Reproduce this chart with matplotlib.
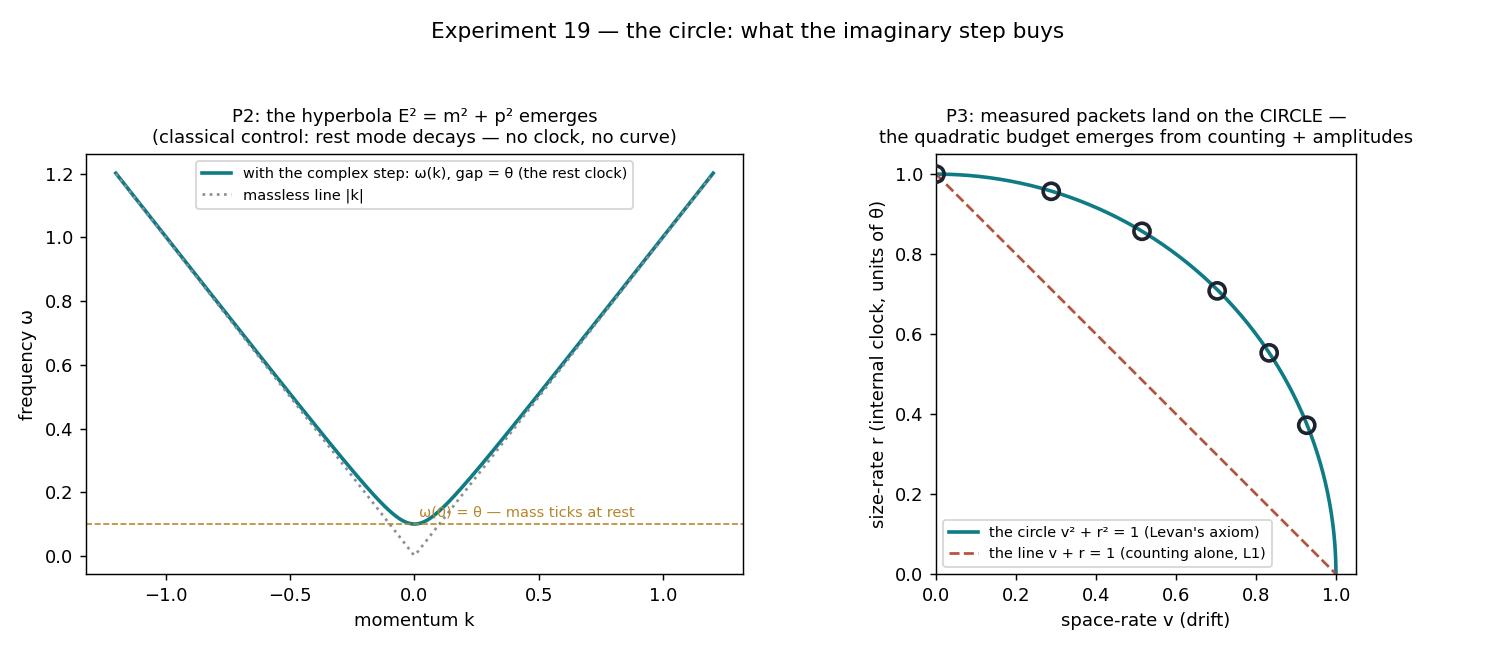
import numpy as np
import matplotlib
matplotlib.use("Agg")
import matplotlib.pyplot as plt

# ---- data ----
theta = 0.1                      # rest gap (the rest clock)
k_range = (-1.2, 1.2)
n_k = 400
# measured packets on the circle
packet_v = [0.0, 0.288, 0.515, 0.703, 0.833, 0.927]
packet_r = [1.0, 0.957, 0.857, 0.708, 0.553, 0.372]

TEAL = "#0f7c85"
GRAY = "#8a8f9b"
GOLD = "#b5862a"
RUST = "#b5523b"
DARK = "#1e2330"

fig = plt.figure(figsize=(11.5, 5), dpi=130)
fig.suptitle("Experiment 19 \u2014 the circle: what the imaginary step buys",
             fontsize=12, y=0.966)

# ---- left: dispersion ----
ax1 = fig.add_axes([0.0575, 0.1169, 0.4395, 0.646])
k = np.linspace(k_range[0], k_range[1], n_k)
omega = np.arccos(np.cos(theta) * np.cos(k))
ax1.plot(k, omega, color=TEAL, lw=2,
         label="with the complex step: \u03c9(k), gap = \u03b8 (the rest clock)")
ax1.plot(k, np.abs(k), color=GRAY, lw=1.5, ls=":", label="massless line |k|")
ax1.axhline(theta, color=GOLD, lw=0.9, ls="--")
ax1.text(0.02, theta + 0.013, "\u03c9(0) = \u03b8 \u2014 mass ticks at rest",
         color=GOLD, fontsize=8, va="bottom")
ax1.set_xlabel("momentum k")
ax1.set_ylabel("frequency \u03c9")
ax1.set_title("P2: the hyperbola E\u00b2 = m\u00b2 + p\u00b2 emerges\n"
              "(classical control: rest mode decays \u2014 no clock, no curve)",
              fontsize=10)
ax1.legend(loc="upper center", fontsize=8)

# ---- right: circle ----
ax2 = fig.add_axes([0.6261, 0.1169, 0.2809, 0.646])
phi = np.linspace(0, np.pi / 2, 300)
ax2.plot(np.sin(phi), np.cos(phi), color=TEAL, lw=2,
         label="the circle v\u00b2 + r\u00b2 = 1 (Levan's axiom)")
vv = np.linspace(0, 1, 2)
ax2.plot(vv, 1 - vv, color=RUST, lw=1.5, ls="--",
         label="the line v + r = 1 (counting alone, L1)")
ax2.scatter(packet_v, packet_r, s=80, facecolors="none", edgecolors=DARK,
            linewidths=2, zorder=5)
ax2.set_xlim(0, 1.05)
ax2.set_ylim(0, 1.05)
ax2.set_aspect("equal")
ax2.set_xlabel("space-rate v (drift)")
ax2.set_ylabel("size-rate r (internal clock, units of \u03b8)")
ax2.set_title("P3: measured packets land on the CIRCLE \u2014\n"
              "the quadratic budget emerges from counting + amplitudes",
              fontsize=10)
ax2.legend(loc="lower left", fontsize=8)

fig.savefig("out.png", dpi=130)
